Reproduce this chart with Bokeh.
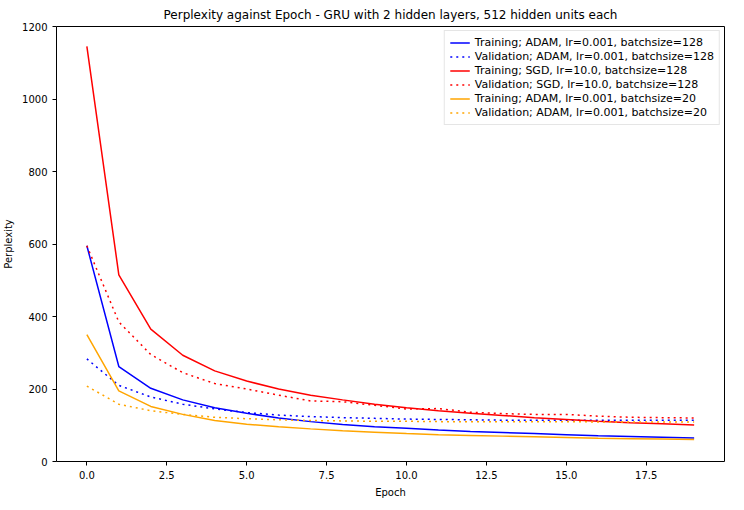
from bokeh.plotting import figure
from bokeh.embed import file_html
from bokeh.resources import INLINE
from bokeh.models import Range1d, Legend, LegendItem

epochs = list(range(20))
adam128_train = [595, 262, 202, 170, 148, 133, 120, 110, 102, 96, 92, 87, 83, 80, 77, 74, 71, 69, 67, 65]
adam128_val = [283, 210, 178, 158, 145, 135, 128, 124, 121, 119, 117, 116, 115, 114, 114, 114, 114, 114, 114, 114]
sgd_train = [1145, 515, 365, 293, 250, 222, 200, 183, 170, 158, 148, 140, 133, 127, 121, 116, 111, 107, 104, 101]
sgd_val = [595, 385, 295, 245, 215, 200, 183, 167, 165, 155, 145, 146, 136, 132, 130, 130, 125, 122, 121, 120]
adam20_train = [350, 195, 152, 130, 113, 103, 96, 90, 85, 81, 77, 74, 72, 70, 68, 66, 64, 63, 62, 61]
adam20_val = [208, 158, 140, 130, 122, 118, 115, 113, 112, 111, 111, 110, 110, 110, 110, 110, 109, 109, 109, 109]

series = [
    ("Training; ADAM, lr=0.001, batchsize=128", adam128_train, "blue", "solid"),
    ("Validation; ADAM, lr=0.001, batchsize=128", adam128_val, "blue", "dotted"),
    ("Training; SGD, lr=10.0, batchsize=128", sgd_train, "red", "solid"),
    ("Validation; SGD, lr=10.0, batchsize=128", sgd_val, "red", "dotted"),
    ("Training; ADAM, lr=0.001, batchsize=20", adam20_train, "orange", "solid"),
    ("Validation; ADAM, lr=0.001, batchsize=20", adam20_val, "orange", "dotted"),
]

p = figure(width=728, height=500, output_backend="svg", toolbar_location=None,
           title="Perplexity against Epoch - GRU with 2 hidden layers, 512 hidden units each",
           x_range=Range1d(-0.95, 19.95), y_range=Range1d(0, 1200),
           min_border_left=53, min_border_right=4, min_border_top=22, min_border_bottom=36)
p.title.align = "center"
p.title.text_font = "DejaVu Sans"
p.title.text_font_size = "12px"
p.title.text_font_style = "normal"
p.title.text_color = "black"
p.xgrid.visible = False
p.ygrid.visible = False
p.outline_line_color = "black"
for ax in (p.xaxis[0], p.yaxis[0]):
    ax.major_label_text_font = "DejaVu Sans"
    ax.major_label_text_font_size = "10px"
    ax.major_label_text_color = "black"
    ax.axis_label_text_font = "DejaVu Sans"
    ax.axis_label_text_font_size = "10px"
    ax.axis_label_text_font_style = "normal"
    ax.axis_label_text_color = "black"
    ax.minor_tick_line_color = None
    ax.major_tick_in = 0
    ax.major_tick_out = 4
    ax.axis_line_color = None
p.xaxis.axis_label = "Epoch"
p.yaxis.axis_label = "Perplexity"
p.xaxis.ticker = [0, 2.5, 5, 7.5, 10, 12.5, 15, 17.5]
p.xaxis.major_label_overrides = {0: "0.0", 2.5: "2.5", 5: "5.0", 7.5: "7.5", 10: "10.0", 12.5: "12.5", 15: "15.0", 17.5: "17.5"}
p.yaxis.ticker = [0, 200, 400, 600, 800, 1000, 1200]

items = []
for label, ys, color, dash in series:
    r = p.line(epochs, ys, line_color=color, line_width=1.5, line_dash=dash)
    items.append(LegendItem(label=label, renderers=[r]))
leg = Legend(items=items, location="top_right", label_text_font="DejaVu Sans",
             label_text_font_size="11px", label_text_color="black", spacing=1, padding=5, margin=4,
             label_height=13, glyph_height=13, border_line_color="#cccccc")
p.add_layout(leg)

open("out.html", "w").write(file_html(p, INLINE))
